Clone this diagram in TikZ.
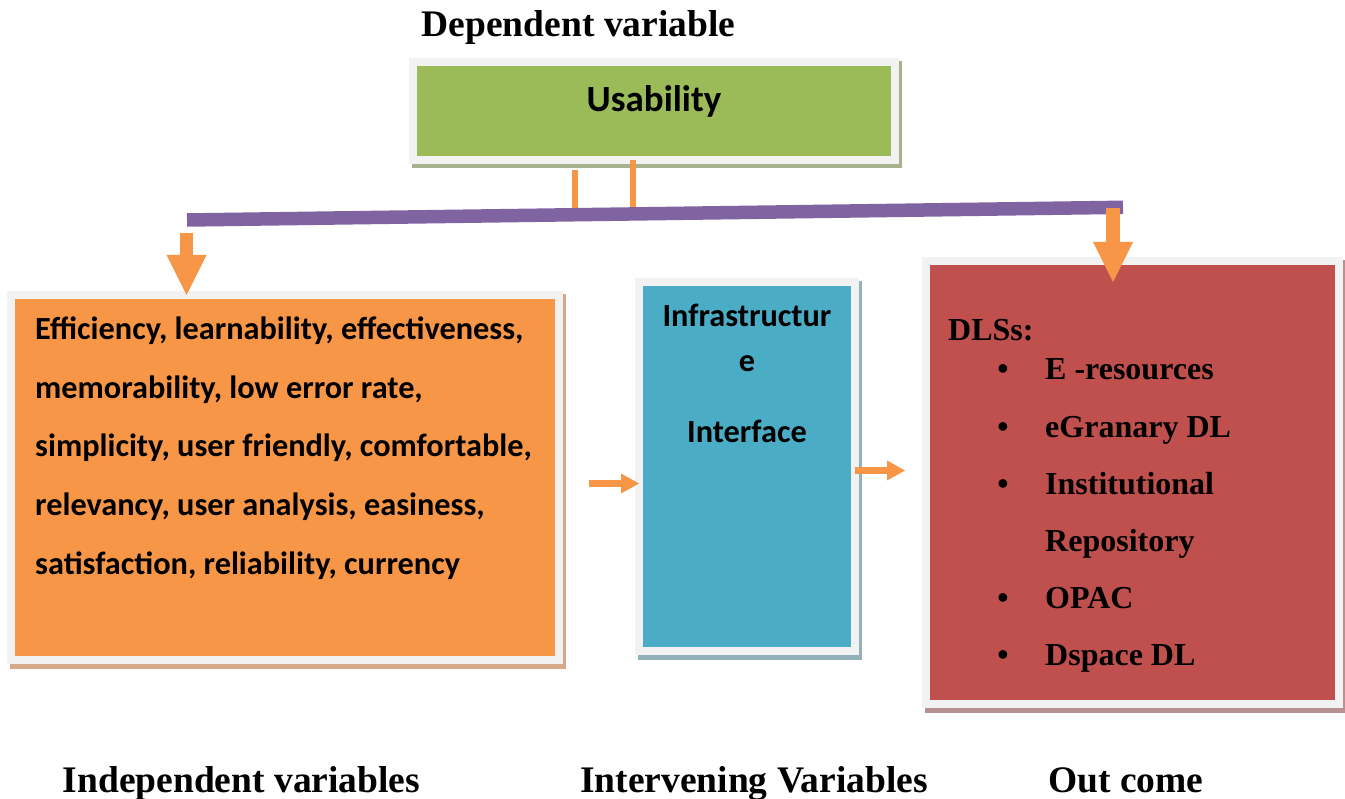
\documentclass[tikz,border=0pt]{standalone}
\usepackage{fontspec}
\setmainfont{Liberation Serif}
\newfontfamily\calfont{Carlito}
\usetikzlibrary{arrows.meta}
\definecolor{frameg}{HTML}{F2F2F2}
\definecolor{usgreen}{HTML}{9BBB59}
\definecolor{ivorange}{HTML}{F79646}
\definecolor{inblue}{HTML}{4BACC6}
\definecolor{outred}{HTML}{C0504D}
\definecolor{barpurple}{HTML}{8064A2}
\definecolor{shgreen}{HTML}{A7B08F}
\definecolor{shorange}{HTML}{D5A989}
\definecolor{shblue}{HTML}{93B1BB}
\definecolor{shred}{HTML}{B79191}
\begin{document}
\begin{tikzpicture}[x=1pt,y=-1pt,
  box/.style={draw=frameg, line width=8pt, outer sep=0pt, inner sep=0pt, rectangle},
  head/.style={font=\fontsize{37.5}{44}\selectfont\bfseries, inner sep=0pt, anchor=base},
  caltext/.style={font=\calfont\fontsize{32.3}{38}\selectfont\bfseries, inner sep=0pt, anchor=base west},
  calmid/.style={font=\calfont\fontsize{32.3}{38}\selectfont\bfseries, inner sep=0pt, anchor=base},
  redtext/.style={font=\fontsize{32}{38}\selectfont\bfseries, inner sep=0pt, anchor=base west},
  stub/.style={draw=ivorange, line width=6.5pt},
  bigarrow/.style={draw=ivorange, fill=ivorange, -{Triangle[length=40pt,width=40pt,line width=0pt]}},
  smallarrow/.style={draw=ivorange, fill=ivorange, line width=7pt, -{Triangle[length=18pt,width=20pt,line width=0pt]}}
]
\fill[white] (0,0) rectangle (1345,799);
\useasboundingbox (0,0) rectangle (1345,799);

% shadows
\fill[shgreen] (412,61) rectangle (902,168);
\fill[shorange] (10,294) rectangle (566,669);
\fill[shblue] (638,281) rectangle (862,660);
\fill[shred] (925,260) rectangle (1346,713);

% boxes
\node[box, fill=usgreen, minimum width=482pt, minimum height=98pt] (usab) at (654,111) {};
\node[box, fill=ivorange, minimum width=548pt, minimum height=365pt] (indep) at (285,477.5) {};
\node[box, fill=inblue, minimum width=216pt, minimum height=369pt] (inter) at (747,466.5) {};
\node[box, fill=outred, minimum width=413pt, minimum height=443pt] (outc) at (1132.5,482.5) {};

% stubs and bar
\coordinate (s1) at (575,170);
\coordinate (s2) at (633,160);
\draw[stub] (s1) -- ++(0,42);
\draw[stub] (s2) -- ++(0,52);
\coordinate (barL) at (187,220);
\coordinate (barR) at (1123,207.3);
\draw[draw=barpurple, line width=13.5pt] (barL) -- (barR);

% arrows
\coordinate (a1s) at (186.5,233);
\draw[bigarrow, line width=13pt] (a1s) -- (a1s |- indep.north);
\coordinate (a2s) at (1113,208);
\coordinate (a2e) at (1113,282);
\draw[bigarrow, line width=14pt] (a2s) -- (a2e);
\coordinate (m1s) at (589,483.5);
\draw[smallarrow] (m1s) -- (m1s -| inter.west);
\coordinate (m2s) at (855,470.5);
\coordinate (m2e) at (905,470.5);
\draw[smallarrow] (m2s) -- (m2e);

% texts
\node[head] (tdep) at (578.5,37) {Dependent variable};
\node[font=\calfont\fontsize{37}{40}\selectfont\bfseries, inner sep=0pt, anchor=base] (tusab) at (654,112) {Usability};

\node[caltext] (l1) at (35,340) {Efficiency, learnability, effectiveness,};
\node[caltext] (l2) at (35,399) {memorability, low error rate,};
\node[caltext] (l3) at (35,457) {simplicity, user friendly, comfortable,};
\node[caltext] (l4) at (35,515) {relevancy, user analysis, easiness,};
\node[caltext] (l5) at (35,574) {satisfaction, reliability, currency};

\node[calmid] (b1) at (747,327) {Infrastructur};
\node[calmid] (b2) at (747,372) {e};
\node[calmid] (b3) at (747,443) {Interface};

\node[redtext] (r0) at (948,341) {DLSs:};
\foreach \y/\t/\n in {380/E -resources/1, 438/eGranary DL/2, 495/Institutional/3, 608/OPAC/5, 665/Dspace DL/6}{
  \node[redtext, anchor=base] (bul\n) at (1003,\y) {•};
  \node[redtext] (r\n) at (1045,\y) {\t};
}
\node[redtext] (r4) at (1045,551) {Repository};

\node[head] (tind) at (241.5,792) {Independent variables};
\node[head] (tint) at (754,792) {Intervening Variables};
\node[head] (tout) at (1126,792) {Out come};
\end{tikzpicture}
\end{document}
